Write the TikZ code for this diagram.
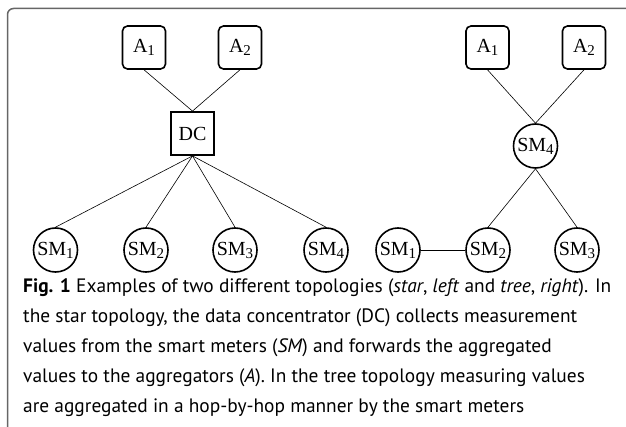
\documentclass[tikz,border=0pt]{standalone}
\usepackage{fontspec}
\setmainfont{Liberation Serif}
\newfontfamily\capfont{PT Sans}
\newcommand\idx[1]{\raisebox{-0.32ex}{\fontsize{15}{15}\selectfont#1}}
\begin{document}
\begin{tikzpicture}[x=1pt,y=-1pt,
		label font/.style={font=\fontsize{20}{22}\selectfont},
		agg/.style={draw,line width=1.6pt,rounded corners=5pt,minimum size=43pt,inner sep=0pt,label font},
		conc/.style={draw,line width=1.8pt,minimum size=43pt,inner sep=0pt,label font},
		meter/.style={draw,circle,line width=1.6pt,minimum size=44pt,inner sep=0pt,label font},
		link/.style={line width=0.6pt}]
		\useasboundingbox (0,0) rectangle (626,427);
		\draw[line width=1.5pt,black!60,rounded corners=6pt] (7.5,427) -- (7.5,8.5) -- (626,8.5);
		% star topology
		\node[agg] (sa1) at (144,47.5) {A\idx{1}};
		\node[agg] (sa2) at (240,47.5) {A\idx{2}};
		\node[conc] (dc) at (192.5,133.5) {DC};
		\foreach \i/\x in {1/55.5,2/146,3/235,4/326}
			\node[meter] (ssm\i) at (\x,250) {SM\idx{\i}};
		\draw[link] (sa1.south) -- (dc.north);
		\draw[link] (sa2.south) -- (dc.north);
		\foreach \i in {1,...,4}
			\draw[link] (dc.south) -- (ssm\i.north);
		% tree topology
		\node[agg] (ta1) at (487.5,47.5) {A\idx{1}};
		\node[agg] (ta2) at (584,47.5) {A\idx{2}};
		\node[meter] (tsm4) at (535.5,146) {SM\idx{4}};
		\node[meter] (tsm1) at (398,250) {SM\idx{1}};
		\node[meter] (tsm2) at (488,250) {SM\idx{2}};
		\node[meter] (tsm3) at (577,250) {SM\idx{3}};
		\draw[link] (ta1.south) -- (tsm4.north);
		\draw[link] (ta2.south) -- (tsm4.north);
		\draw[link] (tsm4.south) -- (tsm2.north);
		\draw[link] (tsm4.south) -- (tsm3.north);
		\draw[link] (tsm1.east) -- (tsm2.west);
		% caption
		\node[anchor=base west,align=left,inner sep=0pt,font=\capfont\fontsize{19.4}{30}\selectfont] (cap) at (23,412)
			{\textbf{Fig. 1} Examples of two different topologies (\textit{star}, \textit{left} and \textit{tree}, \textit{right}). In\\
			the star topology, the data concentrator (DC) collects measurement\\
			values from the smart meters (\textit{SM}) and forwards the aggregated\\
			values to the aggregators (\textit{A}). In the tree topology measuring values\\
			are aggregated in a hop-by-hop manner by the smart meters};
	\end{tikzpicture}
\end{document}
